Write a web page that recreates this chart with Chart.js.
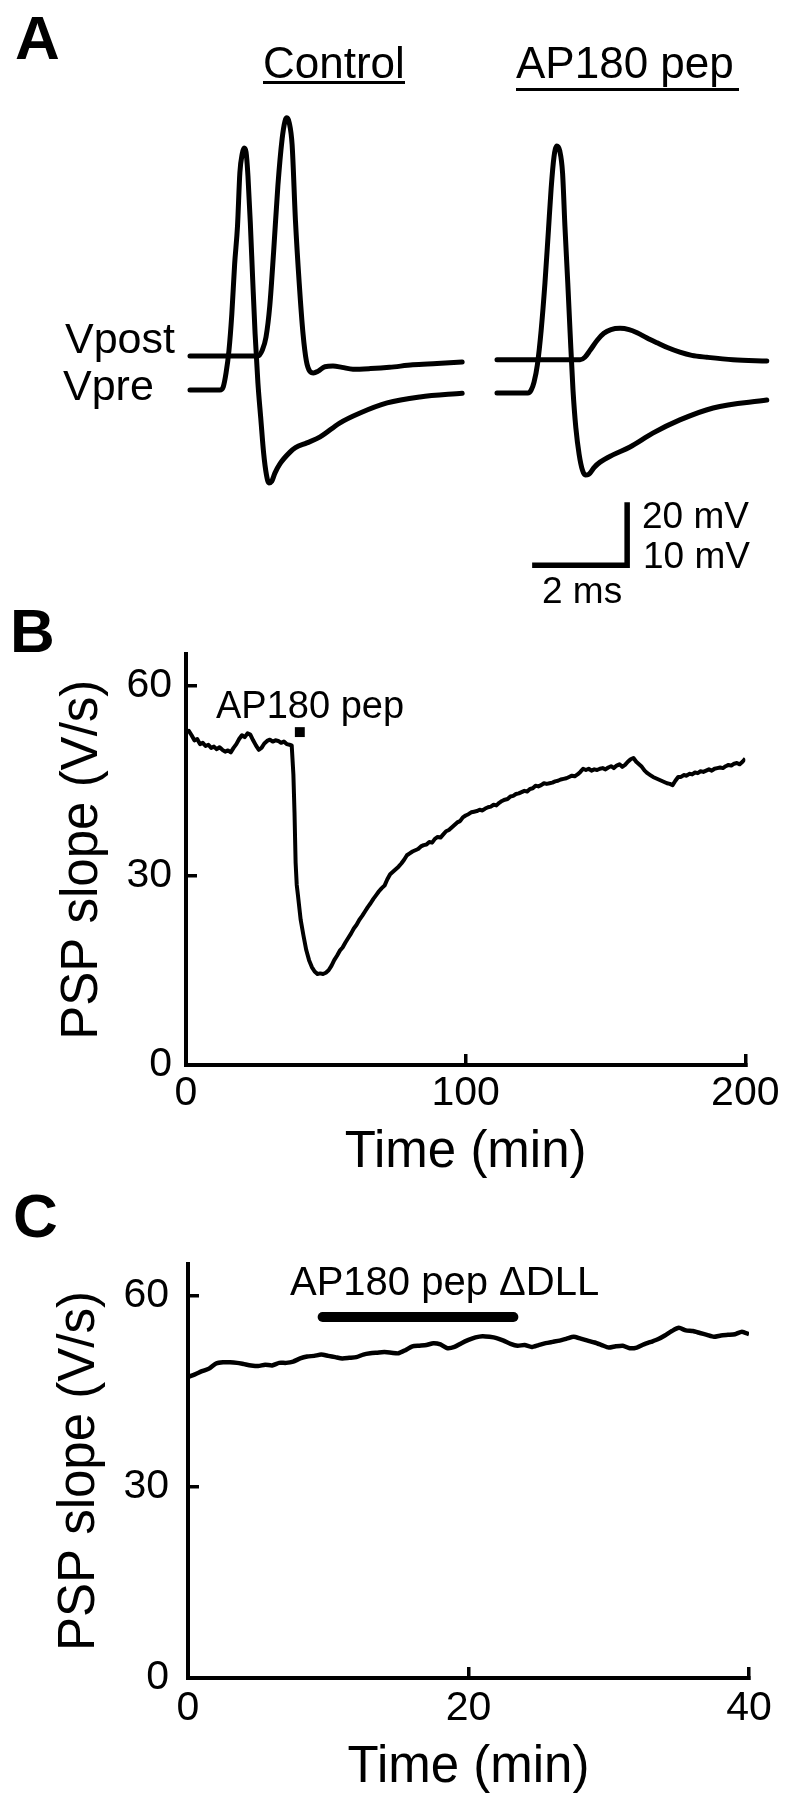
<!DOCTYPE html>
<html><head><meta charset="utf-8">
<script src="https://cdn.jsdelivr.net/npm/chart.js@4.4.1/dist/chart.umd.min.js"></script>
<style>
html,body{margin:0;padding:0;background:#fff;}
#page{position:relative;width:799px;height:1800px;overflow:hidden;font-family:'Liberation Sans',Arial,Helvetica,sans-serif;color:#000;}
canvas{position:absolute;left:0;}
.t{position:absolute;line-height:1;white-space:nowrap;}
.u{position:absolute;height:3px;background:#000;}
</style></head><body><div id="page">
<canvas id="cA" width="799" height="600" style="top:0px"></canvas>
<canvas id="cB" width="799" height="600" style="top:600px"></canvas>
<canvas id="cC" width="799" height="600" style="top:1200px"></canvas>

<div class="t" style="left:15px;top:6.5px;font-size:62px;font-weight:bold">A</div>
<div class="t" style="left:263px;top:40.8px;font-size:44px">Control</div>
<div class="u" style="left:263px;top:81px;width:142px"></div>
<div class="t" style="left:516px;top:40.8px;font-size:44px">AP180 pep</div>
<div class="u" style="left:516px;top:88px;width:223px"></div>
<div class="t" style="left:65px;top:316.6px;font-size:43px">Vpost</div>
<div class="t" style="left:63px;top:363.6px;font-size:43px">Vpre</div>
<div class="t" style="left:642px;top:496.7px;font-size:37px">20 mV</div>
<div class="t" style="left:643px;top:536.7px;font-size:37px">10 mV</div>
<div class="t" style="left:542px;top:571.7px;font-size:37px">2 ms</div>

<div class="t" style="left:10px;top:599.5px;font-size:62px;font-weight:bold">B</div>
<div class="t" style="left:216px;top:685.8px;font-size:38px">AP180 pep</div>

<div class="t" style="left:13px;top:1184.5px;font-size:62px;font-weight:bold">C</div>
<div class="t" style="left:290px;top:1261.1px;font-size:40px">AP180 pep ΔDLL</div>
</div>
<script>
// ---------- Panel A: voltage traces (time in ms, potential in mV relative to rest) ----------
const ctrlVpostTime = [0, 1.43, 1.52, 1.60, 1.68, 1.76, 1.85, 1.94, 2.00, 2.04, 2.09, 2.15, 2.22, 2.30, 2.38, 2.45, 2.52, 2.60, 2.70, 2.84, 3.01, 3.20, 3.43, 3.80, 4.20, 4.69, 5.20, 5.73];
const ctrlVpost     = [0, 0, 0.9, 3.0, 8.0, 16.5, 27.0, 34.5, 37.3, 37.8, 37.0, 33.5, 21.5, 11.5, 3.5, -0.8, -2.4, -2.7, -2.4, -1.7, -1.6, -1.8, -2.1, -2.0, -1.8, -1.4, -1.2, -0.95];
const ctrlVpreTime  = [0, 0.63, 0.70, 0.76, 0.82, 0.88, 0.94, 1.00, 1.05, 1.10, 1.14, 1.18, 1.22, 1.27, 1.32, 1.37, 1.43, 1.49, 1.55, 1.61, 1.66, 1.72, 1.79, 1.90, 2.10, 2.22, 2.46, 2.74, 3.15, 3.58, 4.15, 4.84, 5.73];
const ctrlVpre      = [0, 0, 1.0, 5.5, 12.5, 24.0, 40.0, 52.0, 69.0, 75.0, 76.8, 75.5, 68.0, 53.0, 35.0, 18.0, 2.2, -9.0, -20.0, -27.0, -29.5, -29.0, -26.3, -23.3, -19.8, -18.3, -16.8, -14.9, -10.5, -7.3, -4.1, -2.2, -1.0];
const pepVpostTime  = [0, 1.75, 1.85, 1.96, 2.11, 2.25, 2.40, 2.59, 2.78, 2.95, 3.15, 3.37, 3.60, 3.85, 4.10, 4.42, 4.97, 5.68];
const pepVpost      = [-0.6, -0.6, -0.2, 0.9, 2.5, 3.6, 4.2, 4.4, 4.2, 3.7, 2.9, 2.1, 1.3, 0.6, 0.1, -0.2, -0.6, -0.8];
const pepVpreTime   = [0, 0.65, 0.72, 0.78, 0.85, 0.93, 1.01, 1.08, 1.14, 1.20, 1.26, 1.32, 1.38, 1.43, 1.49, 1.54, 1.60, 1.66, 1.73, 1.80, 1.86, 1.93, 2.05, 2.17, 2.44, 2.80, 3.28, 3.85, 4.55, 5.68];
const pepVpre       = [-0.95, -0.95, 0, 2.5, 8.0, 19.0, 34.0, 50.0, 64.0, 74.0, 77.5, 76.0, 69.0, 52.0, 34.0, 18.0, 0, -12.0, -20.5, -25.5, -27.0, -26.8, -24.5, -22.9, -20.6, -18.1, -13.7, -9.5, -5.7, -3.2];
const scaleBarTime  = [0.74, 2.74, 2.74];      // 2 ms horizontal bar
const scaleBarMv    = [-55.6, -55.6, -35.6];   // 20 mV (Vpre) / 10 mV (Vpost) vertical bar

// ---------- Panel B: PSP slope (V/s) vs time (min), AP180 peptide ----------
const bTime  = [0,1,2,3,4,5,6,7,8,9,10,11,12,13,14,15,16,17,18,19,20,21,22,23,24,25,26,27,28,29,30,31,32,33,34,35,36,37,37.8,38.4,38.8,39.2,39.6,40,41,42,43,44,45,46,47,48,49,50,51,52,53,54,55,56,57,58,59,60,61,62,63,64,65,66,67,68,69,70,71,72,73,74,75,76,77,78,79,80,81,82,83,84,85,86,87,88,89,90,91,92,93,94,95,96,97,98,99,100,101,102,103,104,105,106,107,108,109,110,111,112,113,114,115,116,117,118,119,120,121,122,123,124,125,126,127,128,129,130,131,132,133,134,135,136,137,138,139,140,141,142,143,144,145,146,147,148,149,150,151,152,153,154,155,156,157,158,159,160,161,162,163,164,165,166,167,168,169,170,171,172,173,174,175,176,177,178,179,180,181,182,183,184,185,186,187,188,189,190,191,192,193,194,195,196,197,198,199,200];
const bSlope = [52.7,52.9,52.2,51.4,51.6,50.8,51.0,50.5,50.7,50.2,50.4,50.0,50.3,49.9,49.6,49.8,49.5,50.2,50.8,51.6,52.2,51.9,52.5,52.3,51.4,50.6,49.9,50.2,50.9,51.3,51.5,51.2,51.4,51.3,51.0,51.2,50.8,50.7,50.6,46,40,32,28.5,27,23,20.5,18.2,16.6,15.5,14.8,14.4,14.5,14.4,14.6,15.0,15.7,16.6,17.3,18.1,18.6,19.4,20.1,20.8,21.6,22.2,23.0,23.6,24.3,25.0,25.6,26.3,26.9,27.5,28.0,28.4,29.4,30.2,30.6,31.0,31.4,31.9,32.5,33.2,33.5,33.8,34.0,34.2,34.6,34.8,34.9,35.3,35.2,35.8,36.1,36.0,36.5,37.0,37.2,37.6,38.0,38.4,38.6,39.2,39.5,39.7,40.0,40.1,40.2,40.4,40.3,40.6,40.8,40.9,41.2,41.1,41.5,41.8,42.0,42.1,42.5,42.6,42.9,43.0,43.2,43.4,43.3,43.7,43.8,44.2,44.1,44.3,44.6,44.5,44.6,44.7,44.9,45.0,45.2,45.3,45.4,45.6,45.8,45.7,46.0,46.4,46.9,46.7,46.9,46.6,46.8,46.7,46.9,47.0,46.8,47.1,47.3,47.0,47.4,47.6,47.2,47.5,48.0,48.4,48.6,48.0,47.6,47.2,46.6,46.2,45.9,45.6,45.4,45.2,45.0,44.8,44.6,44.5,44.3,45.0,45.6,45.6,45.9,45.8,46.1,46.0,46.3,46.2,46.5,46.4,46.6,46.8,46.6,46.9,47.0,47.1,47.0,47.3,47.5,47.4,47.7,47.8,47.6,48.0,48.5];
const bPepMarkTime  = [40.7];
const bPepMarkLevel = [52.7];
const bTimeTicks  = [0, 100, 200];
const bSlopeTicks = [0, 30, 60];

// ---------- Panel C: PSP slope (V/s) vs time (min), AP180 pep ΔDLL ----------
const cTime  = [0,0.5,1,1.5,2,2.5,3,3.5,4,4.5,5,5.5,6,6.5,7,7.5,8,8.5,9,9.5,10,10.5,11,11.5,12,12.5,13,13.5,14,14.5,15,15.5,16,16.5,17,17.5,18,18.5,19,19.5,20,20.5,21,21.5,22,22.5,23,23.5,24,24.5,25,25.5,26,26.5,27,27.5,28,28.5,29,29.5,30,30.5,31,31.5,32,32.5,33,33.5,34,34.5,35,35.5,36,36.5,37,37.5,38,38.5,39,39.5,40];
const cSlope = [47.3,47.7,48.2,48.6,49.4,49.6,49.6,49.5,49.3,49.1,49.0,49.2,49.1,49.5,49.5,49.7,50.2,50.5,50.6,50.8,50.6,50.4,50.2,50.3,50.4,50.8,51.0,51.1,51.2,51.1,51.0,51.5,52.1,52.2,52.3,52.6,52.4,51.8,52.0,52.6,53.1,53.5,53.7,53.6,53.4,53.0,52.5,52.2,52.3,52.0,52.3,52.6,52.8,53.0,53.3,53.6,53.3,53.0,52.7,52.3,51.9,52.1,52.2,51.8,51.9,52.4,52.8,53.2,53.8,54.5,55.0,54.6,54.5,54.2,53.9,53.6,53.8,53.9,54.0,54.4,54.0];
const cPepBarTime  = [9.6, 23.2];
const cPepBarLevel = [56.7, 56.7];
const cTimeTicks  = [0, 20, 40];
const cSlopeTicks = [0, 30, 60];

// ---------- rendering ----------
const FAM = "'Liberation Sans', Arial, Helvetica, sans-serif";
Chart.defaults.font.family = FAM;
Chart.defaults.color = '#000';
const pts = (xs, ys) => xs.map((x, i) => ({x: x, y: ys[i]}));

const traceStyle = {borderColor: '#000', borderWidth: 5, pointRadius: 0, fill: false,
  cubicInterpolationMode: 'monotone', borderCapStyle: 'round', borderJoinStyle: 'round'};

new Chart(document.getElementById('cA'), {
  type: 'line',
  data: {datasets: [
    Object.assign({label: 'Control Vpost', data: pts(ctrlVpostTime, ctrlVpost), xAxisID: 'xCtrl', yAxisID: 'yPost'}, traceStyle),
    Object.assign({label: 'Control Vpre', data: pts(ctrlVpreTime, ctrlVpre), xAxisID: 'xCtrl', yAxisID: 'yPre'}, traceStyle),
    Object.assign({label: 'AP180 pep Vpost', data: pts(pepVpostTime, pepVpost), xAxisID: 'xPep', yAxisID: 'yPost'}, traceStyle),
    Object.assign({label: 'AP180 pep Vpre', data: pts(pepVpreTime, pepVpre), xAxisID: 'xPep', yAxisID: 'yPre'}, traceStyle),
    {label: 'scale bar', data: pts(scaleBarTime, scaleBarMv), xAxisID: 'xPep', yAxisID: 'yPre',
     borderColor: '#000', borderWidth: 5.5, pointRadius: 0, tension: 0, borderCapStyle: 'butt', borderJoinStyle: 'miter'}
  ]},
  options: {
    responsive: false, animation: false, devicePixelRatio: 1,
    layout: {padding: 0},
    plugins: {legend: {display: false}, tooltip: {enabled: false}},
    scales: {
      xCtrl: {type: 'linear', display: false, min: -4.0, max: 12.821},
      xPep:  {type: 'linear', display: false, min: -10.463, max: 6.358},
      yPre:  {type: 'linear', display: false, min: -66.667, max: 123.81},
      yPost: {type: 'linear', display: false, min: -38.73, max: 56.51}
    }
  }
});

function slopeChart(id, cfg) {
  const tickFont = {size: 41, family: FAM, lineHeight: 1};
  const titleFont = {size: 51, family: FAM, lineHeight: 1};
  const gridOpts = {display: true, drawOnChartArea: false, drawTicks: true, tickLength: -11, color: '#000', lineWidth: 3.5};
  const borderOpts = {display: true, color: '#000', width: 4};
  return new Chart(document.getElementById(id), {
    type: 'line',
    data: {datasets: cfg.datasets},
    options: {
      responsive: false, animation: false, devicePixelRatio: 1,
      layout: {padding: cfg.padding},
      plugins: {legend: {display: false}, tooltip: {enabled: false}},
      scales: {
        x: {type: 'linear', position: 'bottom', min: cfg.xMin, max: cfg.xMax,
            afterBuildTicks: s => { s.ticks = cfg.xTicks.map(v => ({value: v})); },
            afterFit: s => { s.height = cfg.xHeight; },
            ticks: {font: tickFont, color: '#000', padding: cfg.xTickPad, autoSkip: false, maxRotation: 0},
            grid: gridOpts, border: borderOpts,
            title: {display: true, text: 'Time (min)', font: titleFont, color: '#000', padding: {top: 0, bottom: cfg.xTitlePad}}},
        y: {type: 'linear', position: 'left', min: 0, max: 65,
            afterBuildTicks: s => { s.ticks = cfg.yTicks.map(v => ({value: v})); },
            afterFit: s => { s.width = cfg.yWidth; },
            ticks: {font: tickFont, color: '#000', padding: cfg.yTickPad, autoSkip: false},
            grid: gridOpts, border: borderOpts,
            title: {display: true, text: 'PSP slope (V/s)', font: titleFont, color: '#000', padding: {top: cfg.yTitlePad, bottom: 0}}}
      }
    }
  });
}

slopeChart('cB', {
  datasets: [
    {label: 'PSP slope', data: pts(bTime, bSlope), borderColor: '#000', borderWidth: 4, pointRadius: 0, tension: 0, borderJoinStyle: 'round'},
    {label: 'AP180 pep', data: pts(bPepMarkTime, bPepMarkLevel), showLine: false, pointStyle: 'rect', pointRadius: 7, backgroundColor: '#000', borderWidth: 0, clip: false}
  ],
  padding: {left: 0, right: 40, top: 54.4, bottom: 0},
  xMin: 0, xMax: 200, xTicks: bTimeTicks, yTicks: bSlopeTicks,
  xHeight: 135, yWidth: 186, xTickPad: 19.5, yTickPad: 25, xTitlePad: 21.2, yTitlePad: 57
});

slopeChart('cC', {
  datasets: [
    {label: 'PSP slope', data: pts(cTime, cSlope), borderColor: '#000', borderWidth: 4.5, pointRadius: 0, tension: 0.2, borderJoinStyle: 'round'},
    {label: 'AP180 pep ΔDLL', data: pts(cPepBarTime, cPepBarLevel), borderColor: '#000', borderWidth: 10, pointRadius: 0, borderCapStyle: 'round', clip: false}
  ],
  padding: {left: 0, right: 50, top: 64.2, bottom: 0},
  xMin: 0, xMax: 40, xTicks: cTimeTicks, yTicks: cSlopeTicks,
  xHeight: 122, yWidth: 188, xTickPad: 21.5, yTickPad: 30, xTitlePad: 6.2, yTitlePad: 54.3
});
</script>
</body></html>
